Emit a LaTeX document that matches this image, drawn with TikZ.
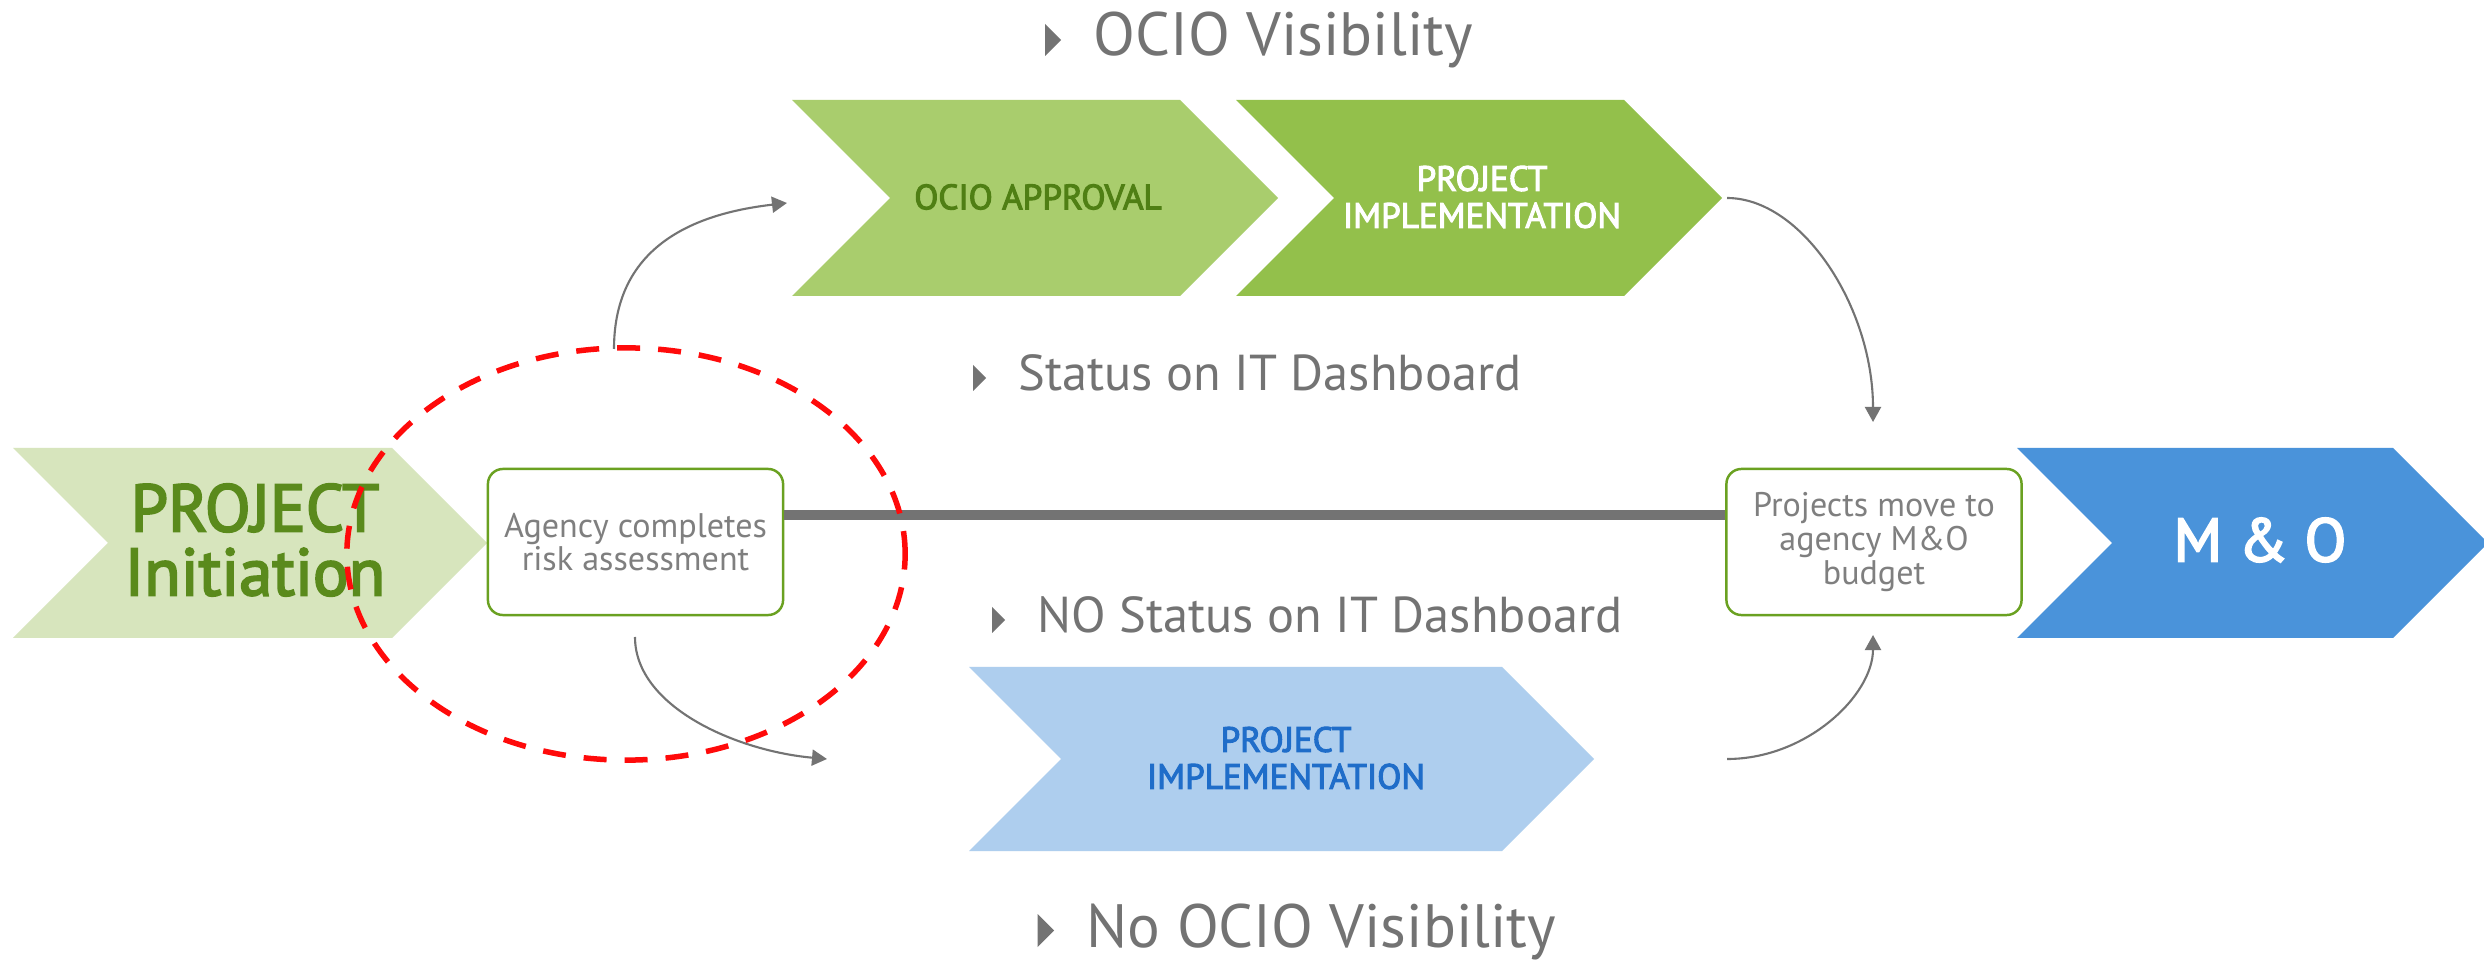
\documentclass[tikz,border=0pt]{standalone}
\usepackage{fontspec}
\setmainfont{PT Sans}
\newfontfamily\stagefont{PT Sans}[FakeBold=3]
\usetikzlibrary{arrows.meta,calc}

\definecolor{initfill}{HTML}{D7E5BD}
\definecolor{initgreen}{HTML}{5A8A1C}
\definecolor{ociofill}{HTML}{A9CD6D}
\definecolor{ociogreen}{HTML}{4F7F14}
\definecolor{implfill}{HTML}{93C04B}
\definecolor{implbfill}{HTML}{AECEEE}
\definecolor{implblue}{HTML}{1F6DC9}
\definecolor{mofill}{HTML}{4A93DA}
\definecolor{boxgreen}{HTML}{6AA121}
\definecolor{boxgray}{HTML}{7F7F7F}
\definecolor{linegray}{HTML}{737373}
\definecolor{ringred}{HTML}{FF0A0A}

\newcommand{\arrowblock}[5]{\fill[#1] (#2,#3) -- ++(#4,0) -- ++(#5,#5) -- ++(-#5,#5) -- ++(-#4,0) -- ++(#5,-#5) -- cycle;}

\begin{document}
\begin{tikzpicture}[x=0.01cm, y=-0.01cm,
	flow/.style={draw=linegray, line width=0.6pt, -{Triangle[length=0.15cm, width=0.16cm]}},
	procbox/.style={draw=boxgreen, line width=0.7pt, rounded corners=0.15cm, fill=white, minimum width=2.95cm, minimum height=1.46cm, inner sep=0, align=center, text=boxgray, font=\fontsize{9.7}{9.6}\selectfont},
	stagetext/.style={align=center, inner sep=0, font=\stagefont\fontsize{10}{10.5}\selectfont},
	bigstage/.style={align=center, inner sep=0, font=\stagefont\fontsize{19}{18.2}\selectfont},
	bignote/.style={anchor=base west, inner sep=0, text=linegray, font=\fontsize{17.4}{17.4}\selectfont},
	smallnote/.style={anchor=base west, inner sep=0, text=linegray, font=\fontsize{14.35}{14.35}\selectfont},
	riskring/.style={draw=ringred, line width=0.055cm, dash pattern=on 0.23cm off 0.18cm}]
	\fill[white] (0,0) rectangle (2484,961);
	\useasboundingbox (0,0) rectangle (2484,961);

	\arrowblock{initfill}{13}{448}{379}{95}
	\arrowblock{ociofill}{792}{100}{388}{98}
	\arrowblock{implfill}{1236}{100}{388}{98}
	\arrowblock{implbfill}{969}{667}{533}{92}
	\arrowblock{mofill}{2017}{448}{376}{95}

	\node [bigstage, text=initgreen] (init) at (255,540) {PROJECT\\Initiation};
	\node [stagetext, text=ociogreen] (ocio) at (1038,197) {OCIO APPROVAL};
	\node [stagetext, text=white] (impl) at (1482,197) {PROJECT\\IMPLEMENTATION};
	\node [stagetext, text=implblue] (implb) at (1286,758) {PROJECT\\IMPLEMENTATION};
	\node [bigstage, text=white, font=\stagefont\fontsize{17.4}{17.4}\selectfont] (mo) at (2260,540) {M \& O};

	\node [procbox] (agency) at (635.5,542) {Agency completes\\risk assessment};
	\node [procbox] (budget) at (1874,542) {Projects move to\\agency M\&O\\budget};

	\node [bignote] (vis) at (1093,56) {OCIO Visibility};
	\node [smallnote] (dash) at (1018,391) {Status on IT Dashboard};
	\node [smallnote] (nodash) at (1037,633) {NO Status on IT Dashboard};
	\node [bignote] (novis) at (1086,947) {No OCIO Visibility};
	\foreach \n/\h in {vis/32, dash/26, nodash/26, novis/33}
		\fill[linegray] ($(\n.base west)+({-32-\h/2},0)$) -- ++(0,-\h) -- ++(\h/2,\h/2) -- cycle;

	\coordinate (upgo) at (614,349);
	\coordinate (upend) at (787,203);
	\coordinate (implout) at (1727,198);
	\coordinate (budgetin) at (1873,422);
	\coordinate (downgo) at (635,637);
	\coordinate (downend) at (827,759);
	\coordinate (implbout) at (1727,759);
	\coordinate (budgetup) at (1873,635);

	\draw [linegray, line width=0.1cm] ([yshift=0.27cm]agency.east) -- ([yshift=0.27cm]budget.west);
	\draw [flow] (upgo) .. controls +(0,-95) and +(-105,12) .. (upend);
	\draw [flow] (implout) .. controls +(75,0) and +(0,-115) .. (budgetin);
	\draw [flow] (downgo) .. controls +(0,70) and +(-90,-8) .. (downend);
	\draw [flow] (implbout) .. controls +(80,0) and +(0,60) .. (budgetup);

	\draw [riskring] (626,554) ellipse [x radius=2.79cm, y radius=2.06cm];
\end{tikzpicture}
\end{document}
